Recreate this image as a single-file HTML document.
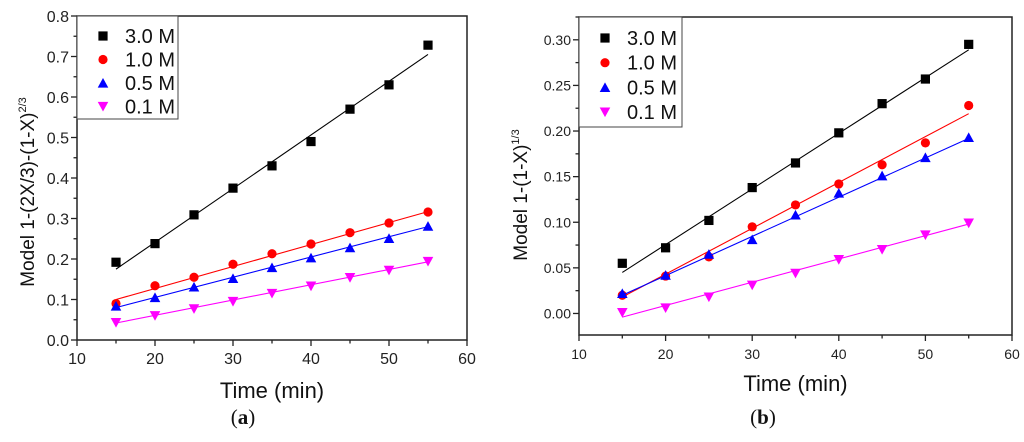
<!DOCTYPE html>
<html><head><meta charset="utf-8"><style>
body{margin:0;background:#fff;}
svg{display:block;font-family:"Liberation Sans",sans-serif;}
</style></head><body>
<svg id="svg" width="1024" height="442" viewBox="0 0 1024 442"></svg>
<script>
const times = [15,20,25,30,35,40,45,50,55];
const seriesNames = ["3.0 M","1.0 M","0.5 M","0.1 M"];
const leftValues30 = [0.192,0.238,0.309,0.375,0.43,0.49,0.57,0.63,0.728];
const leftValues10 = [0.09,0.134,0.155,0.187,0.213,0.237,0.265,0.289,0.316];
const leftValues05 = [0.084,0.105,0.131,0.152,0.179,0.203,0.228,0.251,0.281];
const leftValues01 = [0.043,0.06,0.077,0.095,0.115,0.133,0.154,0.172,0.194];
const leftFits = [[0.175,0.705],[0.10,0.317],[0.08,0.28],[0.042,0.193]];
const rightValues30 = [0.055,0.072,0.102,0.138,0.165,0.198,0.230,0.257,0.295];
const rightValues10 = [0.020,0.041,0.062,0.095,0.119,0.142,0.163,0.187,0.228];
const rightValues05 = [0.022,0.042,0.065,0.081,0.108,0.132,0.151,0.171,0.193];
const rightValues01 = [0.001,0.006,0.018,0.031,0.044,0.059,0.070,0.086,0.099];
const rightFits = [[0.045,0.289],[0.018,0.219],[0.020,0.192],[-0.004,0.098]];
const xTickLabels = ["10","20","30","40","50","60"];
const leftYTicks = ["0.0","0.1","0.2","0.3","0.4","0.5","0.6","0.7","0.8"];
const rightYTicks = ["0.00","0.05","0.10","0.15","0.20","0.25","0.30"];

const NS="http://www.w3.org/2000/svg";
const svg=document.getElementById('svg');
const colors=["#000","#ff0000","#0000ff","#ff00ff"];
const shapes=["square","circle","up","down"];
function mk(tag,attrs,parent){const e=document.createElementNS(NS,tag);for(const k in attrs)e.setAttribute(k,attrs[k]);(parent||svg).appendChild(e);return e;}
function marker(g,shape,x,y,c,s){
  if(shape==="square")return mk('rect',{x:x-s,y:y-s,width:2*s,height:2*s,fill:c},g);
  if(shape==="circle")return mk('circle',{cx:x,cy:y,r:s,fill:c},g);
  if(shape==="up")return mk('polygon',{points:`${x-s*1.15},${y+s} ${x+s*1.15},${y+s} ${x},${y-s*1.1}`,fill:c},g);
  return mk('polygon',{points:`${x-s*1.15},${y-s} ${x+s*1.15},${y-s} ${x},${y+s*1.1}`,fill:c},g);
}
function chart(o){
  const g=mk('g',{});
  
  
  const X=v=>o.x0+(v-10)/50*(o.x1-o.x0);
  const Y=v=>o.yb-(v-o.ymin)/(o.ymax-o.ymin)*(o.yb-o.yt);
  const fr=mk('rect',{x:o.x0,y:o.yt,width:o.x1-o.x0,height:o.yb-o.yt,fill:'none',stroke:'#222','stroke-width':1.5},g);
  
  for(let v=10;v<=60;v+=5){const maj=(v%10===0);mk('line',{x1:X(v),x2:X(v),y1:o.yb,y2:o.yb+(maj?6:3.5),stroke:'#222','stroke-width':1.3},g);}
  xTickLabels.forEach((t,i)=>{const e=mk('text',{x:X(+t),y:o.yb+24,'text-anchor':'middle','font-size':o.fs,fill:'#222'},g);e.textContent=t;
    });
  const n=o.yTicks.length;
  for(let i=0;i<n;i++){const v=+o.yTicks[i];mk('line',{x1:o.x0-6,x2:o.x0,y1:Y(v),y2:Y(v),stroke:'#222','stroke-width':1.3},g);
    const e=mk('text',{x:o.x0-8,y:Y(v)+o.fs*0.36,'text-anchor':'end','font-size':o.fs,fill:'#222'},g);e.textContent=o.yTicks[i];
    
    const m=v+o.step/2; if(Y(m)>=o.yt-0.5&&Y(m)<=o.yb) mk('line',{x1:o.x0-3.5,x2:o.x0,y1:Y(m),y2:Y(m),stroke:'#222','stroke-width':1.3},g);
    const m2=v-o.step/2; if(i===0&&Y(m2)<=o.yb) mk('line',{x1:o.x0-3.5,x2:o.x0,y1:Y(m2),y2:Y(m2),stroke:'#222','stroke-width':1.3},g);
  }
  o.series.forEach((vals,si)=>{
    const sg=mk('g',{},g);
    
    
    const f=o.fits[si];
    mk('line',{x1:X(times[0]),y1:Y(f[0]),x2:X(times[times.length-1]),y2:Y(f[1]),stroke:colors[si],'stroke-width':1.1},sg);
    vals.forEach((v,i)=>{const m=marker(sg,shapes[si],X(times[i]),Y(v),colors[si],4.6);
      });
  });
  const lg=mk('g',{},g);
  
  mk('rect',{x:o.x0,y:o.yt,width:o.lw,height:o.lh,fill:'#fff',stroke:'#444','stroke-width':1},lg);
  seriesNames.forEach((s,i)=>{const y=o.yt+o.ly0+i*o.ldy;
    const m=marker(lg,shapes[i],o.x0+26,y,colors[i],4.6);
    
    const e=mk('text',{x:o.x0+48,y:y+7,'font-size':20,fill:'#111'},lg);e.textContent=s;
    });
  const xt=mk('text',{x:(o.x0+o.x1)/2,y:o.xty,'text-anchor':'middle','font-size':22,fill:'#111'},g);xt.textContent='Time (min)';
  
  const yt=mk('text',{x:0,y:0,'text-anchor':'middle','font-size':19,fill:'#111',transform:`translate(${o.ytx},${o.yty}) rotate(-90)`},g);
  yt.innerHTML=o.ytitle;
  
  const pl=mk('text',{x:o.plx,y:424,'text-anchor':'middle','font-size':21,'font-family':'Liberation Serif, serif',fill:'#111'},g);
  pl.innerHTML=o.panel;
  
}
chart({name:'chart-a',x0:77,x1:467,yt:16,yb:340,ymin:0,ymax:0.8,step:0.1,yTicks:leftYTicks,fs:16,
  series:[leftValues30,leftValues10,leftValues05,leftValues01],fits:leftFits,lw:101,lh:103,ly0:20,ldy:23.5,
  xty:398,ytx:34,yty:192,plx:243,panel:'(<tspan font-weight="bold">a</tspan>)',
  ytitle:'Model 1-(2X/3)-(1-X)<tspan dy="-8" font-size="11">2/3</tspan>'});
chart({name:'chart-b',x0:579,x1:1012,yt:17,yb:335,ymin:-0.0236,ymax:0.325,step:0.05,yTicks:rightYTicks,fs:14,
  series:[rightValues30,rightValues10,rightValues05,rightValues01],fits:rightFits,lw:103,lh:110,ly0:21,ldy:24.7,
  xty:391,ytx:527,yty:195,plx:763,panel:'(<tspan font-weight="bold">b</tspan>)',
  ytitle:'Model 1-(1-X)<tspan dy="-8" font-size="11">1/3</tspan>'});
</script>
</body></html>
